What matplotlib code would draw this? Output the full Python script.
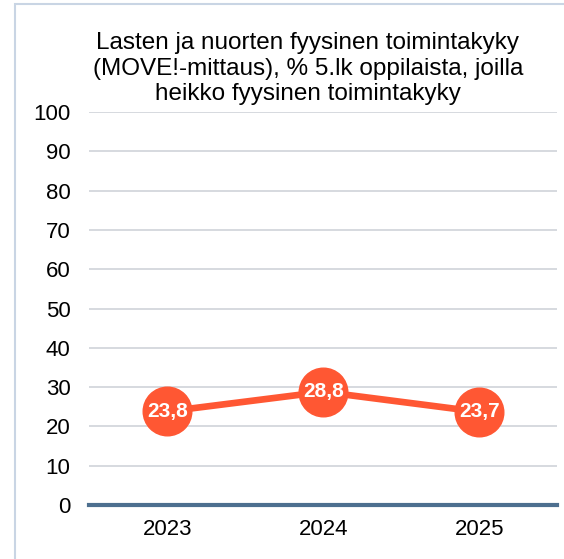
import matplotlib.pyplot as plt
from matplotlib.patches import Rectangle

plt.rcParams['font.family'] = ['Liberation Sans', 'DejaVu Sans']

# Data
years = ['2023', '2024', '2025']
values = [23.8, 28.8, 23.7]
title = ('Lasten ja nuorten fyysinen toimintakyky\n'
         '(MOVE!-mittaus), % 5.lk oppilaista, joilla\n'
         'heikko fyysinen toimintakyky')

line_color = '#FF5733'

fig = plt.figure(figsize=(5.64, 5.59), dpi=100)
ax = fig.add_axes([0.158, 0.0966, 0.83, 0.703])

# Outer frame (left and top edges only)
fig.patches.append(Rectangle((15 / 564, -0.1), 1.2, 1 - 4 / 559 + 0.1,
                             transform=fig.transFigure, fill=False,
                             edgecolor='#C9D5E4', linewidth=1.5))

x = range(len(years))
ax.plot(x, values, color=line_color, linewidth=4.8, marker='o',
        markersize=35, markerfacecolor=line_color, markeredgecolor=line_color,
        zorder=3)
for xi, v in zip(x, values):
    ax.text(xi, v, f'{v:.1f}'.replace('.', ','), ha='center', va='center',
            color='white', fontsize=15, fontweight='bold', zorder=4)

ax.set_xlim(-0.5, 2.5)
ax.set_ylim(0, 100)
ax.set_yticks(range(0, 101, 10))
ax.set_xticks(list(x))
ax.set_xticklabels(years)
ax.tick_params(axis='both', length=0, labelsize=16, colors='black')
ax.tick_params(axis='y', pad=13.5)
ax.tick_params(axis='x', pad=10)

ax.grid(axis='y', color='#D3D7DC', linewidth=1.3)
ax.set_axisbelow(True)
for side in ['left', 'right', 'top']:
    ax.spines[side].set_visible(False)
ax.spines['bottom'].set_color('#4D6F8F')
ax.spines['bottom'].set_linewidth(3)

fig.text(0.546, 0.877, title, ha='center', va='center', fontsize=17.5,
         linespacing=1.2)

fig.savefig('out.png', dpi=100)
